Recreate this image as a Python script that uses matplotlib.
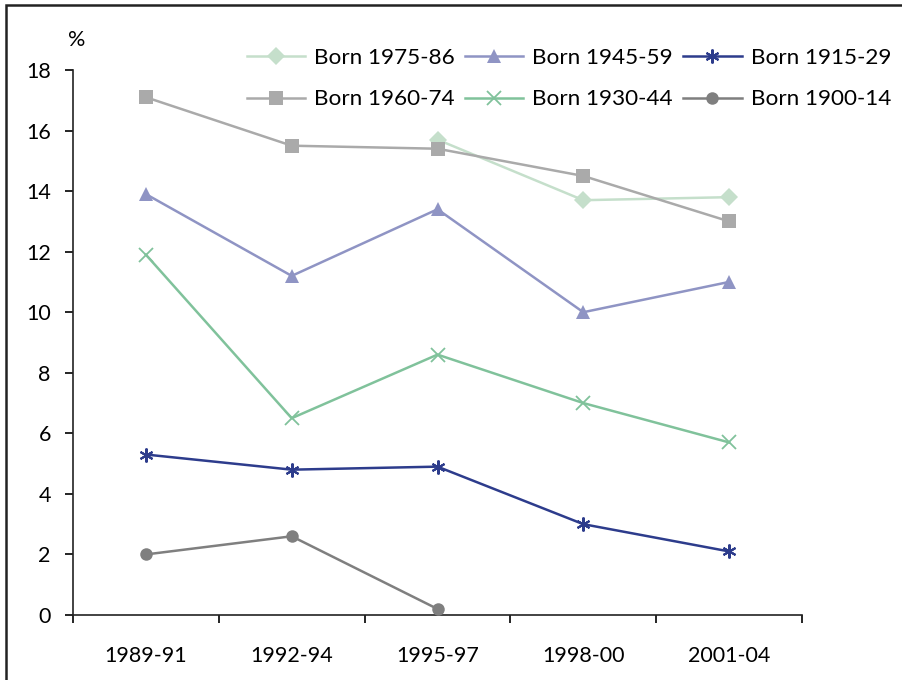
import matplotlib
matplotlib.use("Agg")
import matplotlib.pyplot as plt
from matplotlib.patches import Rectangle
import numpy as np

periods = ["1989-91", "1992-94", "1995-97", "1998-00", "2001-04"]
born_1975_86 = [None, None, 15.7, 13.7, 13.8]
born_1960_74 = [17.1, 15.5, 15.4, 14.5, 13.0]
born_1945_59 = [13.9, 11.2, 13.4, 10.0, 11.0]
born_1930_44 = [11.9, 6.5, 8.6, 7.0, 5.7]
born_1915_29 = [5.3, 4.8, 4.9, 3.0, 2.1]
born_1900_14 = [2.0, 2.6, 0.2, None, None]

series = [
    ("Born 1975-86", born_1975_86, "#c5dfcb", "D", 9, 0),
    ("Born 1960-74", born_1960_74, "#aaaaaa", "s", 10, 0),
    ("Born 1945-59", born_1945_59, "#8f94c4", "^", 10, 0),
    ("Born 1930-44", born_1930_44, "#80c29b", "x", 10, 1.3),
    ("Born 1915-29", born_1915_29, "#2d3c8c", (6, 2, 0), 10, 1.5),
    ("Born 1900-14", born_1900_14, "#7f7f7f", "o", 9, 0),
]

plt.rcParams['font.family'] = ['Lato', 'DejaVu Sans']
fig = plt.figure(figsize=(9.02, 6.8), dpi=100)
ax = fig.add_axes([73/902, 1-615/680, (802-73)/902, (615-70)/680])

x = np.arange(len(periods))
zorders = {"Born 1975-86": 2, "Born 1960-74": 3}
for name, vals, col, mk, ms, mew in series:
    xs = [xi for xi, v in zip(x, vals) if v is not None]
    ys = [v for v in vals if v is not None]
    ax.plot(xs, ys, color=col, lw=1.8, marker=mk, markersize=ms,
            markeredgewidth=mew if mew else 0, markeredgecolor=col,
            markerfacecolor=col, label=name, zorder=zorders.get(name, 4), clip_on=False)

ax.set_xlim(-0.5, len(periods) - 0.5)
ax.set_ylim(0, 18)
ax.set_yticks(np.arange(0, 19, 2))
ax.set_xticks(x)
ax.set_xticklabels(periods)
ax.set_xticks(np.arange(-0.5, len(periods), 1), minor=True)
ax.tick_params(axis='x', which='major', length=0, pad=22, labelsize=15.5)
ax.tick_params(axis='x', which='minor', length=6, width=1.2, direction='out')
ax.tick_params(axis='y', length=6, width=1.2, direction='out', pad=10, labelsize=15.5)
for s in ['top', 'right']:
    ax.spines[s].set_visible(False)
for s in ['left', 'bottom']:
    ax.spines[s].set_linewidth(1.2)
    ax.spines[s].set_color('#222222')

ax.text(77/902, 1-40/680, "%", transform=fig.transFigure, fontsize=15.5, ha='center', va='center')

h, l = ax.get_legend_handles_labels()
leg = fig.legend(h, l, ncol=3, loc='upper right', bbox_to_anchor=(891/902, 1-48/680),
                 frameon=False, fontsize=16.2, handlelength=2.6, columnspacing=0.45,
                 handletextpad=0.4, labelspacing=0.95, borderaxespad=0, borderpad=0)

fig.patches.append(Rectangle((6/902, -0.1), 1.2, 1 - 5/680 + 0.1, transform=fig.transFigure,
                             fill=False, edgecolor='#222222', lw=1.8))

fig.savefig("out.png", dpi=100)
